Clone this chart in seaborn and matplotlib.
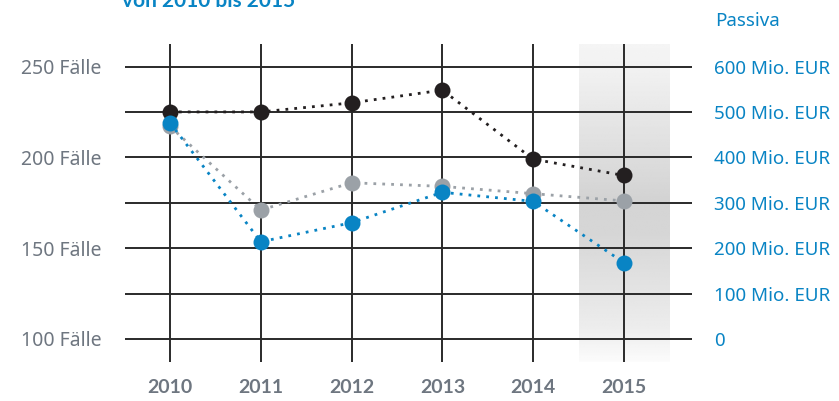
import numpy as np
import pandas as pd
import matplotlib
matplotlib.use("Agg")
import matplotlib.pyplot as plt
import seaborn as sns

years = ["2010", "2011", "2012", "2013", "2014", "2015"]
faelle_black = [225, 225, 230, 237, 199, 190]
faelle_grey = [217, 171, 186, 184, 180, 176]
passiva_blue = [476, 214, 256, 323, 303, 168]
left_ticks = [100, 125, 150, 175, 200, 225, 250]
left_labels = ["100 Fälle", "", "150 Fälle", "", "200 Fälle", "", "250 Fälle"]
right_ticks = [0, 100, 200, 300, 400, 500, 600]
right_labels = ["0", "100 Mio. EUR", "200 Mio. EUR", "300 Mio. EUR",
                "400 Mio. EUR", "500 Mio. EUR", "600 Mio. EUR"]
title = "von 2010 bis 2015"
right_title = "Passiva"

sns.set_theme(style="white")
plt.rcParams["font.family"] = ["Noto Sans", "DejaVu Sans"]
BOLD_FAMILY = ["Lato", "DejaVu Sans"]

BLACK = "#231f20"
GREY = "#9ba1a7"
BLUE = "#0984c4"
LABEL = "#6e7680"
GRID = "#2a2a2a"

fig = plt.figure(figsize=(8.39, 4.01), dpi=100)
ax = fig.add_axes([125 / 839, 1 - 362 / 401, (692 - 125) / 839, (362 - 44) / 401])
ax2 = ax.twinx()

xi = np.arange(len(years))
ylo, yhi = 87.3, 262.4

# shaded band for 2015
grad_y = np.linspace(0, 1, 200)
shade = np.interp(grad_y, [0, 0.1, 0.48, 0.6, 0.9, 1.0], [0.96, 0.94, 0.83, 0.84, 0.93, 0.985])
img = np.repeat(shade[:, None], 2, axis=1)
ax.imshow(img, extent=[4.5, 5.5, ylo, yhi], origin="upper", cmap="gray",
          vmin=0, vmax=1, aspect="auto", zorder=0, interpolation="bilinear")

for t in left_ticks:
    ax.axhline(t, color=GRID, lw=1.4, zorder=1)
for x in xi:
    ax.axvline(x, color=GRID, lw=1.4, zorder=1)

df = pd.DataFrame({"x": xi, "black": faelle_black, "grey": faelle_grey, "blue": passiva_blue})
ls = (0, (1, 2.2))
sns.lineplot(data=df, x="x", y="grey", ax=ax, color=GREY, lw=2.0, linestyle=ls,
             marker="o", markersize=11.5, markeredgewidth=0, zorder=3)
sns.lineplot(data=df, x="x", y="black", ax=ax, color=BLACK, lw=2.0, linestyle=ls,
             marker="o", markersize=11.5, markeredgewidth=0, zorder=5)
ax2.set_zorder(ax.get_zorder() + 1)
ax2.patch.set_visible(False)
sns.lineplot(data=df, x="x", y="blue", ax=ax2, color=BLUE, lw=2.0, linestyle=ls,
             marker="o", markersize=11.5, markeredgewidth=0, zorder=4)

ax.set_xlim(-0.496, 5.75)
ax.set_ylim(ylo, yhi)
ax2.set_ylim((ylo - 100) * 4, (yhi - 100) * 4)

ax.set_xticks(xi)
ax.set_xticklabels(years, fontsize=14, fontweight="bold", color=LABEL, family=BOLD_FAMILY)
ax.set_yticks(left_ticks)
ax.set_yticklabels(left_labels, fontsize=14, color=LABEL)
ax2.set_yticks(right_ticks)
ax2.set_yticklabels(right_labels, fontsize=13.5, color=BLUE)
ax.tick_params(axis="x", length=0, pad=12)
ax.tick_params(axis="y", length=0, pad=17)
ax2.tick_params(axis="y", length=0, pad=16)
ax.set_xlabel("")
ax.set_ylabel("")
ax2.set_ylabel("")
for a in (ax, ax2):
    for s in a.spines.values():
        s.set_visible(False)
ax.grid(False)
ax2.grid(False)

fig.text(122 / 839, 1 - 7 / 401, title, fontsize=15, fontweight="bold", color=BLUE,
         ha="left", va="baseline", family=BOLD_FAMILY)
fig.text(715 / 839, 1 - 26 / 401, right_title, fontsize=13.5, color=BLUE,
         ha="left", va="baseline")

fig.savefig("out.png", dpi=100)
